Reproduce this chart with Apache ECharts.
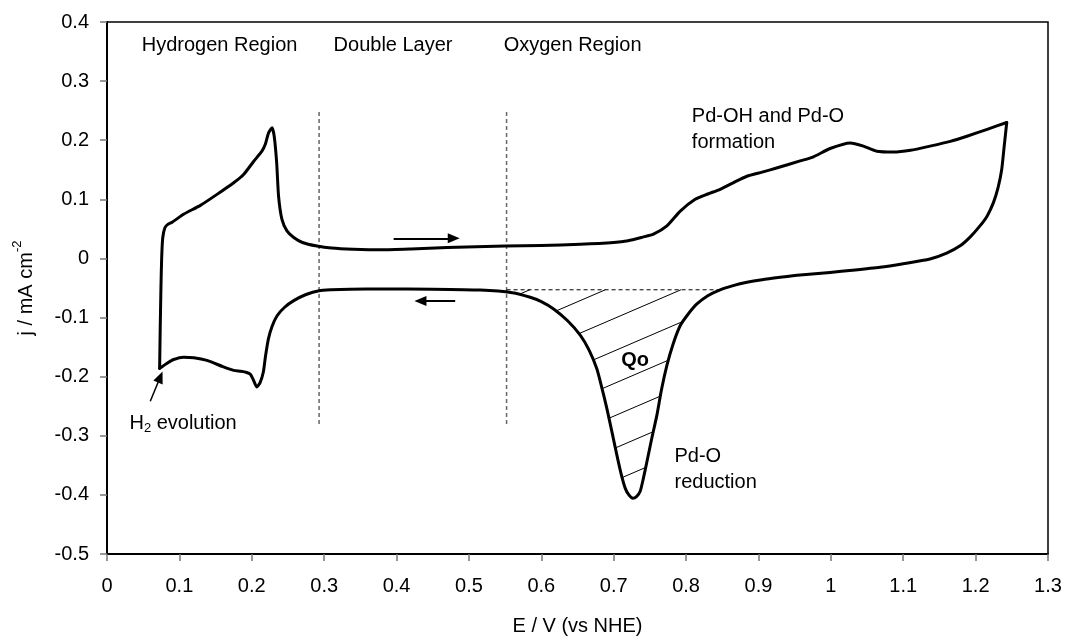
<!DOCTYPE html>
<html>
<head>
<meta charset="utf-8">
<title>Pd cyclic voltammogram</title>
<script src="https://cdn.jsdelivr.net/npm/echarts@6/dist/echarts.min.js"></script>
<style>
  html, body { margin: 0; padding: 0; background: #fff; }
  #chart { width: 1068px; height: 641px; }
</style>
</head>
<body>
<div id="chart"></div>
<script>
// Axis tick labels
const xTickLabels = ['0', '0.1', '0.2', '0.3', '0.4', '0.5', '0.6', '0.7', '0.8', '0.9', '1', '1.1', '1.2', '1.3'];
const yTickLabels = ['-0.5', '-0.4', '-0.3', '-0.2', '-0.1', '0', '0.1', '0.2', '0.3', '0.4'];

// Anodic sweep (E / V vs NHE, j / mA cm^-2)
const anodicE = [0.0727, 0.0735, 0.0745, 0.0755, 0.077, 0.080, 0.0845, 0.0897, 0.1058, 0.129, 0.152, 0.175, 0.1887, 0.2025, 0.214, 0.2187, 0.2232, 0.228, 0.231, 0.2344, 0.237, 0.2417, 0.2486, 0.258, 0.270, 0.290, 0.310, 0.340, 0.380, 0.420, 0.470, 0.550, 0.600, 0.654, 0.700, 0.720, 0.740, 0.755, 0.7735, 0.792, 0.8126, 0.830, 0.847, 0.865, 0.884, 0.905, 0.925, 0.9576, 0.976, 0.999, 1.0267, 1.045, 1.0635, 1.0865, 1.110, 1.137, 1.165, 1.188, 1.215, 1.243];
const anodicJ = [-0.186, -0.120, -0.050, 0.000, 0.035, 0.052, 0.058, 0.061, 0.0747, 0.0898, 0.1084, 0.128, 0.142, 0.164, 0.1814, 0.193, 0.2124, 0.221, 0.2067, 0.162, 0.1056, 0.066, 0.0466, 0.0355, 0.027, 0.021, 0.0175, 0.0155, 0.0145, 0.016, 0.0186, 0.021, 0.022, 0.024, 0.027, 0.030, 0.036, 0.041, 0.055, 0.080, 0.100, 0.109, 0.117, 0.128, 0.139, 0.146, 0.153, 0.165, 0.172, 0.186, 0.1955, 0.190, 0.1814, 0.180, 0.183, 0.190, 0.198, 0.2067, 0.218, 0.230];

// Cathodic sweep
const cathodicE = [1.243, 1.2395, 1.236, 1.231, 1.2246, 1.216, 1.206, 1.193, 1.1786, 1.160, 1.137, 1.100, 1.068, 1.030, 0.999, 0.9576, 0.930, 0.905, 0.884, 0.865, 0.847, 0.830, 0.815, 0.803, 0.792, 0.782, 0.7735, 0.766, 0.7597, 0.7525, 0.7459, 0.741, 0.7366, 0.7315, 0.7265, 0.721, 0.716, 0.710, 0.7044, 0.6975, 0.6906, 0.6835, 0.6767, 0.666, 0.654, 0.636, 0.617, 0.600, 0.5847, 0.560, 0.5156, 0.450, 0.380, 0.336, 0.310, 0.293, 0.275, 0.258, 0.245, 0.235, 0.228, 0.223, 0.219, 0.216, 0.2115, 0.207, 0.202, 0.198, 0.193, 0.185, 0.175, 0.160, 0.138, 0.120, 0.1058, 0.092, 0.082, 0.0727];
const cathodicJ = [0.230, 0.190, 0.150, 0.120, 0.0944, 0.072, 0.055, 0.037, 0.0213, 0.009, -0.001, -0.009, -0.015, -0.020, -0.0236, -0.028, -0.032, -0.036, -0.0404, -0.046, -0.053, -0.063, -0.077, -0.094, -0.1135, -0.145, -0.181, -0.222, -0.265, -0.305, -0.344, -0.372, -0.394, -0.403, -0.4057, -0.400, -0.389, -0.363, -0.3327, -0.293, -0.254, -0.218, -0.1866, -0.155, -0.130, -0.105, -0.0854, -0.073, -0.0657, -0.058, -0.0535, -0.052, -0.0515, -0.052, -0.053, -0.0545, -0.061, -0.0714, -0.083, -0.097, -0.115, -0.136, -0.165, -0.192, -0.210, -0.2175, -0.205, -0.196, -0.193, -0.191, -0.1894, -0.183, -0.1725, -0.168, -0.167, -0.171, -0.178, -0.186];

// Region boundaries (E) and their vertical extent (j)
const regionBounds = [0.293, 0.552];
const regionSpan = [-0.28, 0.25];

// Oxide-reduction charge Qo: baseline current and potential window
const qoBase = -0.053;
const qoRange = [0.552, 0.847];

// Sweep-direction arrows and the H2 pointer: [from, to]
const sweepArrows = [
  [[0.396, 0.034], [0.479, 0.034]],
  [[0.481, -0.072], [0.433, -0.072]]
];
const h2Arrow = [[0.0598, -0.2417], [0.0736, -0.2005]];

// Text annotations: [E, j, text]
const regionLabels = [
  [0.048, 0.361, 'Hydrogen Region'],
  [0.313, 0.361, 'Double Layer'],
  [0.548, 0.361, 'Oxygen Region']
];
const noteLabels = [
  [0.808, 0.218, 'Pd-OH and Pd-O\nformation'],
  [0.784, -0.3564, 'Pd-O\nreduction'],
  [0.031, -0.279, '{a|H}{s|2}{a| evolution}']
];
const qoLabel = [0.7297, -0.1726, 'Qo'];

const zip = (xs, ys) => xs.map((x, i) => [x, ys[i]]);
const anodic = zip(anodicE, anodicJ);
const cathodic = zip(cathodicE, cathodicJ);

const FONT = "'Liberation Sans', Arial, Helvetica, sans-serif";

// Parallel hatch segments clipped to a pixel polygon
function hatchSegments(poly, slope, cList) {
  const segs = [];
  const n = poly.length;
  cList.forEach(c => {
    const hits = [];
    for (let i = 0; i < n; i++) {
      const p = poly[i], q = poly[(i + 1) % n];
      const fp = p[1] + slope * p[0] - c;
      const fq = q[1] + slope * q[0] - c;
      if ((fp > 0) !== (fq > 0)) {
        const t = fp / (fp - fq);
        hits.push([p[0] + t * (q[0] - p[0]), p[1] + t * (q[1] - p[1])]);
      }
    }
    hits.sort((a, b) => a[0] - b[0]);
    for (let k = 0; k + 1 < hits.length; k += 2) segs.push([hits[k], hits[k + 1]]);
  });
  return segs;
}

const chart = echarts.init(document.getElementById('chart'), null, { renderer: 'canvas' });

const textStyleBase = { color: '#000', fontFamily: FONT, fontSize: 20 };

const annotationItem = (d, extra) => ({
  value: [d[0], d[1]],
  itemStyle: { opacity: 1 },
  label: Object.assign({
    show: true,
    formatter: d[2],
    position: [0, 0],
    align: 'left',
    verticalAlign: 'middle',
    color: '#000',
    opacity: 1,
    textBorderWidth: 0,
    fontFamily: FONT,
    fontSize: 20,
    lineHeight: 26,
    rich: {
      a: { fontFamily: FONT, fontSize: 20, lineHeight: 24, color: '#000', verticalAlign: 'middle' },
      s: { fontFamily: FONT, fontSize: 13, lineHeight: 12, color: '#000', verticalAlign: 'bottom' }
    }
  }, extra || {})
});

const option = {
  animation: false,
  backgroundColor: '#fff',
  grid: {
    left: 107, right: 20, top: 22, bottom: 85,
    show: true, borderColor: '#000', borderWidth: 1.5, backgroundColor: 'transparent'
  },
  xAxis: {
    type: 'value', min: 0, max: 1.3, interval: 0.1,
    name: 'E / V (vs NHE)', nameLocation: 'middle', nameGap: 62,
    nameTextStyle: textStyleBase,
    axisLine: { show: true, onZero: false, lineStyle: { color: '#000', width: 2 } },
    axisTick: { show: true, length: 7, lineStyle: { color: '#777', width: 1.5 } },
    axisLabel: {
      margin: 22, color: '#000', fontFamily: FONT, fontSize: 20,
      formatter: v => xTickLabels[Math.round(v * 10)]
    },
    splitLine: { show: false }
  },
  yAxis: {
    type: 'value', min: -0.5, max: 0.4, interval: 0.1,
    name: '{a|j / mA cm}{s|-2}', nameLocation: 'middle', nameGap: 66, nameRotate: 90,
    nameTextStyle: {
      color: '#000', fontFamily: FONT, fontSize: 20,
      rich: {
        a: { fontFamily: FONT, fontSize: 20, lineHeight: 30, color: '#000', verticalAlign: 'middle' },
        s: { fontFamily: FONT, fontSize: 13, lineHeight: 10, color: '#000', verticalAlign: 'top' }
      }
    },
    axisLine: { show: true, onZero: false, lineStyle: { color: '#000', width: 2 } },
    axisTick: { show: true, length: 7, lineStyle: { color: '#777', width: 1.5 } },
    axisLabel: {
      margin: 18, color: '#000', fontFamily: FONT, fontSize: 20,
      formatter: v => yTickLabels[Math.round((v + 0.5) * 10)]
    },
    splitLine: { show: false }
  },
  series: [
    // region separators
    ...regionBounds.map(e => ({
      type: 'line', silent: true, symbol: 'none', z: 1,
      data: [[e, regionSpan[0]], [e, regionSpan[1]]],
      lineStyle: { color: '#666', width: 1.5, type: [4, 3] }
    })),
    // Qo baseline, with the sweep arrows attached
    {
      type: 'line', silent: true, symbol: 'none', z: 2,
      data: [[qoRange[0], qoBase], [qoRange[1], qoBase]],
      lineStyle: { color: '#000', width: 1, type: [4, 3] },
      markLine: {
        silent: true, symbol: ['none', 'triangle'], symbolSize: [10, 12], precision: 4,
        label: { show: false },
        lineStyle: { color: '#000', width: 2, type: 'solid' },
        itemStyle: { color: '#000' },
        emphasis: { disabled: true },
        data: sweepArrows.map(a => [{ coord: a[0] }, { coord: a[1] }])
          .concat([[{ coord: h2Arrow[0], lineStyle: { width: 1.5 } }, { coord: h2Arrow[1] }]])
      }
    },
    // hatching of the Pd-O reduction charge
    {
      type: 'custom', silent: true, z: 3,
      data: [[qoRange[0], qoBase]],
      renderItem: (params, api) => {
        const inside = cathodic.filter(p => p[0] < qoRange[1] && p[0] > qoRange[0]);
        const polyData = [[qoRange[1], qoBase]].concat(inside, [[qoRange[0], qoBase]]);
        const poly = polyData.map(p => api.coord(p));
        const anchor = api.coord([qoRange[0], qoBase]);
        const slope = 0.43;
        const base = anchor[1] + slope * anchor[0] + 10;
        const cList = [];
        for (let k = 0; k < 10; k++) cList.push(base + 32.5 * k);
        const segs = hatchSegments(poly, slope, cList);
        return {
          type: 'group',
          children: segs.map(s => ({
            type: 'line',
            shape: { x1: s[0][0], y1: s[0][1], x2: s[1][0], y2: s[1][1] },
            style: { stroke: '#000', lineWidth: 1 }
          }))
        };
      }
    },
    // voltammogram
    {
      type: 'line', name: 'anodic', silent: true, symbol: 'none', smooth: 0.2, z: 5,
      data: anodic,
      lineStyle: { color: '#000', width: 3, cap: 'round', join: 'round' }
    },
    {
      type: 'line', name: 'cathodic', silent: true, symbol: 'none', smooth: 0.2, z: 5,
      data: cathodic,
      lineStyle: { color: '#000', width: 3, cap: 'round', join: 'round' }
    },
    // text annotations
    {
      type: 'scatter', silent: true, symbolSize: 0, z: 6,
      itemStyle: { opacity: 1 },
      data: regionLabels.map(d => annotationItem(d))
        .concat(noteLabels.map(d => annotationItem(d)))
        .concat([annotationItem(qoLabel, { fontWeight: 'bold', align: 'center' })])
    }
  ]
};

chart.setOption(option);
</script>
</body>
</html>
